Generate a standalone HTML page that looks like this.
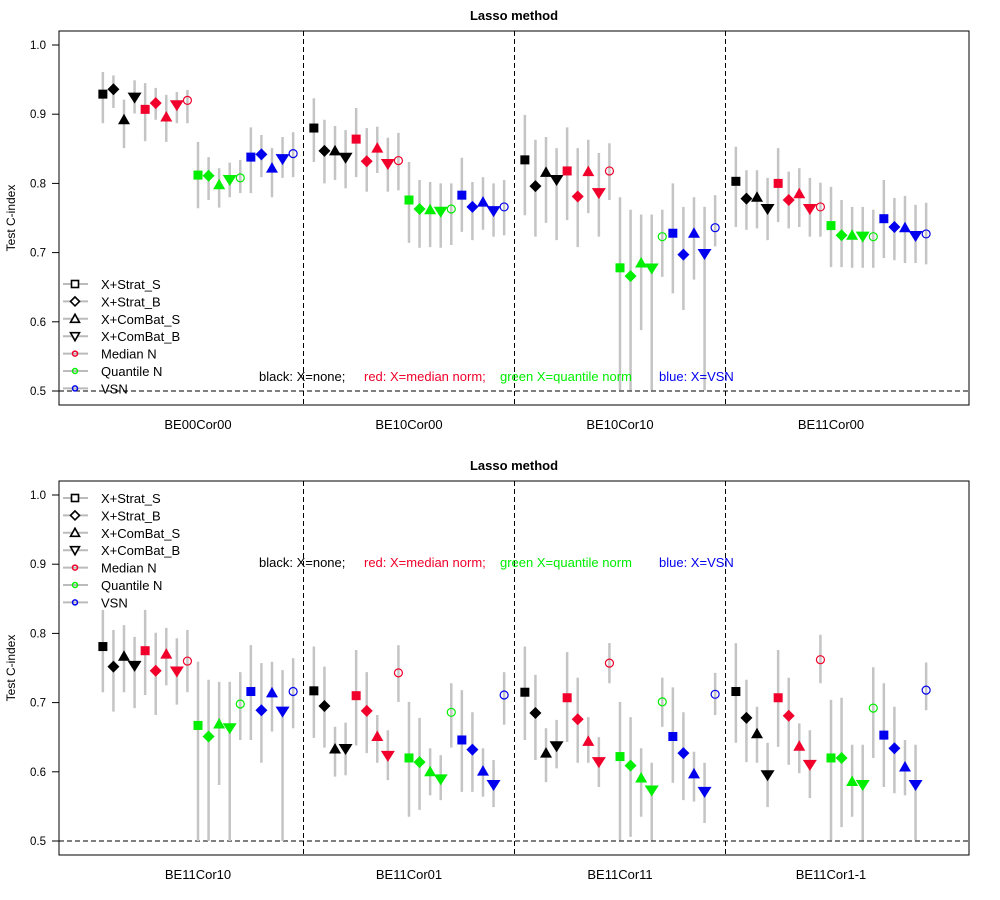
<!DOCTYPE html>
<html><head><meta charset="utf-8">
<style>
body{margin:0;background:#fff;}
svg{display:block;font-family:"Liberation Sans",Arial,sans-serif;}
</style></head>
<body>
<svg id="chart" width="1000" height="900" viewBox="0 0 1000 900"></svg>
<script>
const categoriesTop = ["BE00Cor00","BE10Cor00","BE10Cor10","BE11Cor00"];
const categoriesBottom = ["BE11Cor10","BE11Cor01","BE11Cor11","BE11Cor1-1"];
const yTicks = [0.5,0.6,0.7,0.8,0.9,1.0];
const tickLabels = ["0.5","0.6","0.7","0.8","0.9","1.0"];
const legendLabels = ["X+Strat_S","X+Strat_B","X+ComBat_S","X+ComBat_B","Median N","Quantile N","VSN"];
// 19 methods per group: black(sq,dia,tri,down), red(sq,dia,tri,down,circ), green(...), blue(...)
const meanTop = [
 [.929,.936,.892,.924,.907,.916,.896,.913,.920,.812,.811,.798,.805,.808,.838,.842,.822,.835,.843],
 [.880,.847,.847,.837,.864,.832,.851,.828,.833,.776,.763,.762,.759,.763,.783,.766,.773,.760,.766],
 [.834,.796,.816,.805,.818,.781,.817,.786,.818,.678,.666,.685,.677,.723,.728,.697,.728,.698,.736],
 [.803,.778,.780,.763,.800,.776,.785,.763,.766,.739,.725,.725,.723,.723,.749,.737,.736,.724,.727]];
const loTop = [
 [.887,.909,.851,.901,.861,.892,.860,.887,.887,.764,.776,.765,.780,.786,.786,.809,.780,.808,.809],
 [.831,.800,.805,.793,.809,.788,.815,.788,.790,.714,.707,.708,.707,.711,.730,.718,.733,.723,.725],
 [.754,.723,.743,.718,.747,.708,.757,.723,.776,.501,.501,.588,.501,.665,.641,.617,.661,.501,.709],
 [.737,.733,.735,.718,.744,.735,.737,.723,.723,.679,.679,.678,.678,.678,.692,.689,.685,.685,.683]];
const hiTop = [
 [.961,.956,.921,.949,.945,.938,.928,.932,.935,.860,.838,.822,.830,.834,.881,.870,.851,.867,.874],
 [.923,.892,.883,.877,.909,.880,.882,.866,.873,.831,.805,.802,.800,.800,.837,.802,.809,.800,.805],
 [.899,.863,.867,.851,.881,.851,.863,.844,.858,.780,.762,.755,.755,.762,.800,.766,.780,.766,.783],
 [.853,.819,.819,.808,.851,.817,.822,.808,.801,.795,.776,.766,.766,.762,.805,.779,.782,.769,.772]];
const meanBottom = [
 [.781,.752,.767,.753,.775,.746,.770,.745,.760,.667,.651,.669,.663,.698,.716,.689,.714,.687,.716],
 [.717,.695,.633,.633,.710,.688,.651,.623,.743,.620,.614,.600,.589,.686,.646,.632,.601,.581,.711],
 [.715,.685,.627,.637,.707,.676,.644,.614,.757,.622,.609,.591,.573,.701,.651,.627,.597,.571,.712],
 [.716,.678,.655,.595,.707,.681,.637,.610,.762,.620,.620,.586,.581,.692,.653,.634,.607,.581,.718]];
const loBottom = [
 [.715,.687,.715,.692,.711,.682,.725,.697,.715,.500,.500,.581,.500,.646,.646,.613,.658,.500,.663],
 [.649,.635,.593,.595,.638,.627,.613,.588,.701,.535,.545,.566,.559,.635,.571,.571,.564,.549,.668],
 [.646,.617,.585,.605,.643,.613,.613,.578,.728,.501,.506,.535,.501,.665,.584,.559,.557,.526,.682],
 [.642,.614,.613,.549,.636,.610,.598,.562,.728,.501,.520,.535,.501,.620,.578,.569,.566,.501,.689]];
const hiBottom = [
 [.834,.805,.812,.795,.834,.801,.808,.793,.805,.759,.733,.730,.730,.744,.783,.757,.759,.747,.764],
 [.781,.752,.665,.671,.776,.744,.682,.660,.783,.701,.678,.634,.624,.728,.718,.686,.634,.617,.744],
 [.781,.740,.663,.675,.773,.736,.679,.650,.786,.701,.679,.634,.613,.736,.722,.686,.629,.613,.743],
 [.786,.733,.694,.642,.776,.736,.670,.660,.798,.704,.707,.639,.639,.751,.728,.694,.646,.639,.758]];

const NS="http://www.w3.org/2000/svg";
const svg=document.getElementById('chart');
function mk(tag,attrs,parent){const e=document.createElementNS(NS,tag);for(const k in attrs)e.setAttribute(k,attrs[k]);(parent||svg).appendChild(e);return e;}
const methodColor=["#000","#000","#000","#000","#f0002a","#f0002a","#f0002a","#f0002a","#f0002a","#00ee00","#00ee00","#00ee00","#00ee00","#00ee00","#0000ee","#0000ee","#0000ee","#0000ee","#0000ee"];
const methodShape=["sq","dia","tri","down","sq","dia","tri","down","circ","sq","dia","tri","down","circ","sq","dia","tri","down","circ"];
const X0=59,X1=969;
function xPos(g,k){return 198+211*g+(k-9)*10.57;}

function marker(g,shape,x,y,col){
  let e;
  if(shape==="sq") e=mk('rect',{x:x-4.5,y:y-4.5,width:9,height:9,fill:col},g);
  else if(shape==="dia") e=mk('polygon',{points:`${x},${y-6} ${x+6},${y} ${x},${y+6} ${x-6},${y}`,fill:col},g);
  else if(shape==="tri") e=mk('polygon',{points:`${x},${y-6} ${x+6},${y+4.5} ${x-6},${y+4.5}`,fill:col},g);
  else if(shape==="down") e=mk('polygon',{points:`${x-7},${y-5} ${x+7},${y-5} ${x},${y+6}`,fill:col},g);
  else e=mk('circle',{cx:x,cy:y,r:4,fill:"none",stroke:col,"stroke-width":1.2},g);
  return e;
}

function panel(top,idx,cats,mean,lo,hi,legendY,annY){
  const bottom=top+374, y05=top+360;
  const yS=v=>y05-(v-0.5)*692;
  const P=mk('g',{});
  
  
  const t=mk('text',{x:514,y:top-11,"text-anchor":"middle","font-size":13,"font-weight":"bold"},P);t.textContent="Lasso method";
  
  
  const box=mk('rect',{x:X0,y:top,width:X1-X0,height:374,fill:"none",stroke:"#000","stroke-width":1},P);
  
  
  const yt=mk('text',{transform:`translate(15,${top+187}) rotate(-90)`,"text-anchor":"middle","font-size":12},P);yt.textContent="Test C-index";
  
  
  yTicks.forEach((v,i)=>{const y=yS(v);
    mk('line',{x1:52,x2:X0,y1:y,y2:y,stroke:"#000"},P);
    const l=mk('text',{x:46,y:y+4,"text-anchor":"end","font-size":11.5},P);l.textContent=tickLabels[i];
    
    
  });
  const ref=mk('line',{x1:X0,x2:X1,y1:y05,y2:y05,stroke:"#000","stroke-dasharray":"5,3"},P);
  
  
  [303.5,514.5,725.5].forEach(x=>{const d=mk('line',{x1:x,x2:x,y1:top,y2:bottom,stroke:"#000","stroke-dasharray":"5,3"},P);
    
    });
  cats.forEach((c,gi)=>{const l=mk('text',{x:198+211*gi,y:bottom+24,"text-anchor":"middle","font-size":13},P);l.textContent=c;
    
    });
  mean.forEach((arr,gi)=>arr.forEach((v,k)=>{const x=xPos(gi,k);
    const b=mk('line',{x1:x,x2:x,y1:yS(hi[gi][k]),y2:yS(lo[gi][k]),stroke:"#c4c4c4","stroke-width":2.5},P);
    
    }));
  mean.forEach((arr,gi)=>arr.forEach((v,k)=>{
    const m=marker(P,methodShape[k],xPos(gi,k),yS(v),methodColor[k]);
    
    }));
  const legShapes=["sq","dia","tri","down","circ","circ","circ"];
  const legCols=["#000","#000","#000","#000","#f0002a","#00ee00","#0000ee"];
  legendLabels.forEach((lab,i)=>{const y=legendY+i*17.4;
    const lg=mk('g',{},P);
    
    
    mk('line',{x1:63,x2:88,y1:y,y2:y,stroke:"#bbb","stroke-width":2},lg);
    const s=legShapes[i];
    if(s==="circ") mk('circle',{cx:75,cy:y,r:2.5,fill:"none",stroke:legCols[i],"stroke-width":1.5},lg);
    else if(s==="sq") mk('rect',{x:71.5,y:y-3.5,width:7,height:7,fill:"#fff",stroke:"#000","stroke-width":1.6},lg);
    else if(s==="dia") mk('polygon',{points:`75,${y-4.5} 79.5,${y} 75,${y+4.5} 70.5,${y}`,fill:"#fff",stroke:"#000","stroke-width":1.6},lg);
    else if(s==="tri") mk('polygon',{points:`75,${y-4.5} 79.5,${y+3.5} 70.5,${y+3.5}`,fill:"#fff",stroke:"#000","stroke-width":1.6},lg);
    else mk('polygon',{points:`70.5,${y-3.5} 79.5,${y-3.5} 75,${y+4.5}`,fill:"#fff",stroke:"#000","stroke-width":1.6},lg);
    const tx=mk('text',{x:101,y:y+5,"font-size":13},lg);tx.textContent=lab;
  });
  const an=mk('text',{y:annY+4,"font-size":13},P);
  
  
  an.innerHTML='<tspan x="259" fill="#000">black: X=none;</tspan><tspan x="364" fill="#f0002a">red: X=median norm;</tspan><tspan x="500" fill="#00ee00">green  X=quantile norm</tspan><tspan x="659" fill="#0000ee">blue: X=VSN</tspan>';
}
panel(31,'top',categoriesTop,meanTop,loTop,hiTop,284,377);
panel(481,'bottom',categoriesBottom,meanBottom,loBottom,hiBottom,498,563);
</script>
</body></html>
